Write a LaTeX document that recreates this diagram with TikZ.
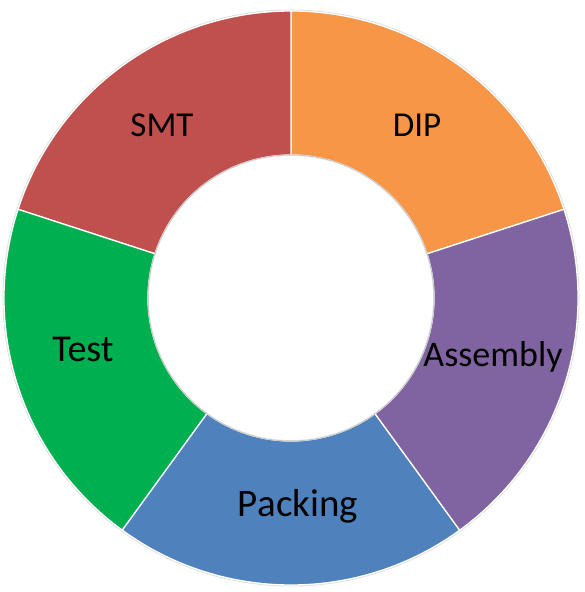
\documentclass[tikz,border=0pt]{standalone}
\usepackage{fontspec}
\setmainfont{Carlito}
\usepackage{xcolor}
\usetikzlibrary{positioning}
\definecolor{smtred}{HTML}{C0504D}
\definecolor{diporange}{HTML}{F79646}
\definecolor{asmpurple}{HTML}{8064A2}
\definecolor{packblue}{HTML}{4F81BD}
\definecolor{testgreen}{HTML}{00B050}
\tikzset{
  seglabel/.style={anchor=base,inner sep=0pt,text=black},
  ringpart/.style={draw=white,line width=1.3pt,line join=round}
}
\begin{document}
\begin{tikzpicture}[x=1pt,y=1pt]
\useasboundingbox (0,0) rectangle (585,592);
\begin{scope}[shift={(291,294)}]
\fill[black!12] (0,0) circle[radius=288.5];
\foreach \a/\col in {18/diporange,90/smtred,162/testgreen,234/packblue,306/asmpurple}{
  \filldraw[ringpart,fill=\col] (\a:287) arc[start angle=\a,end angle=\a+72,radius=287]
    -- (\a+72:143) arc[start angle=\a+72,end angle=\a,radius=143] -- cycle;
}
\draw[black!22,line width=1pt] (0,0) circle[radius=143];
\fill[white] (0,0) circle[radius=142];
\end{scope}
\node[seglabel,font=\fontsize{35}{40}\selectfont] (smt) at (162,455) {SMT};
\node[seglabel,font=\fontsize{35}{40}\selectfont] (dip) at (417,455) {DIP};
\node[seglabel,font=\fontsize{38}{44}\selectfont] (test) at (83,230) {Test};
\node[seglabel,font=\fontsize{36}{42}\selectfont] (asm) at (493,225) {Assembly};
\node[seglabel,font=\fontsize{39}{44}\selectfont] (pack) at (298,75) {Packing};
\end{tikzpicture}
\end{document}
